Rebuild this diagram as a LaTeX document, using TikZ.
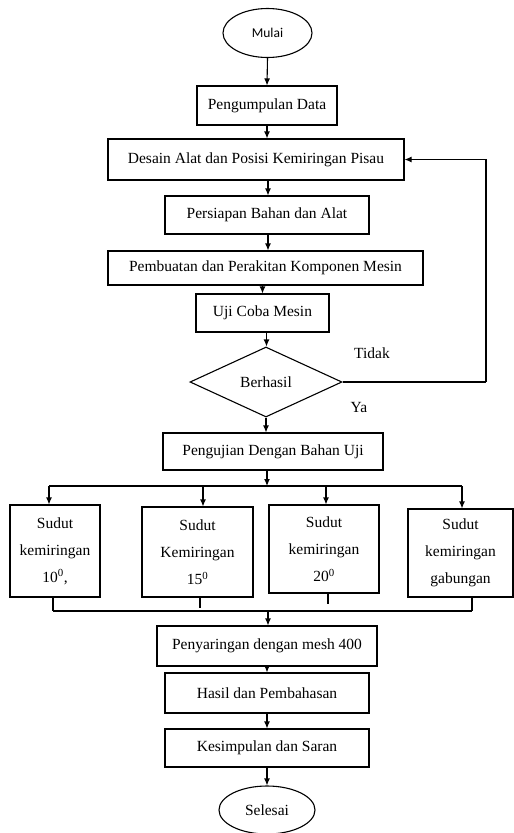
\documentclass[tikz,border=0pt]{standalone}
\usepackage{fontspec}
\setmainfont{Liberation Serif}
\newfontfamily\mulaifont{Carlito}
\usetikzlibrary{shapes.geometric,arrows.meta}
\begin{document}
\begin{tikzpicture}[x=1pt,y=-1pt,
  every node/.style={font=\fontsize{15.5}{27}\selectfont},
  box/.style={draw,line width=1.1pt,rectangle,inner sep=0pt,align=center},
  term/.style={draw,line width=1.1pt,ellipse,inner sep=0pt},
  line/.style={line width=1.1pt},
  arr/.style={line width=1.1pt,-{Latex[length=7pt,width=6pt]}}]
\useasboundingbox (0,0) rectangle (514,833);
% nodes
\node[term,minimum width=89pt,minimum height=49pt] (mulai) at (267.5,33) {\mulaifont\fontsize{13.5}{16}\selectfont Mulai};
\node[box,minimum width=140pt,minimum height=39pt] (pd) at (267,105.5) {Pengumpulan Data};
\node[box,minimum width=296pt,minimum height=41pt] (desain) at (256,159.5) {Desain Alat dan Posisi Kemiringan Pisau};
\node[box,minimum width=204pt,minimum height=38pt] (persiapan) at (267,215) {Persiapan Bahan dan Alat};
\node[box,minimum width=315pt,minimum height=34pt] (pembuatan) at (265.5,268) {Pembuatan dan Perakitan Komponen Mesin};
\node[box,minimum width=133pt,minimum height=38pt] (uji) at (262.5,313) {Uji Coba Mesin};
\node[draw,line width=1.1pt,diamond,inner sep=0pt,minimum width=152pt,minimum height=70pt] (berhasil) at (266,382) {Berhasil};
\node[box,minimum width=220pt,minimum height=37pt] (pengujian) at (273,451.5) {Pengujian Dengan Bahan Uji};
\node[box,minimum width=90pt,minimum height=92pt] (s1) at (55,551) {Sudut\\kemiringan\\10\textsuperscript{0},};
\node[box,minimum width=111pt,minimum height=90pt] (s2) at (197.5,552) {Sudut\\Kemiringan\\15\textsuperscript{0}};
\node[box,minimum width=110pt,minimum height=88pt] (s3) at (324,549) {Sudut\\kemiringan\\20\textsuperscript{0}};
\node[box,minimum width=105pt,minimum height=88pt] (s4) at (460.5,553) {Sudut\\kemiringan\\gabungan};
\node[box,minimum width=220pt,minimum height=40pt] (peny) at (267,646) {Penyaringan dengan mesh 400};
\node[box,minimum width=204pt,minimum height=40pt] (hasil) at (267,693) {Hasil dan Pembahasan};
\node[box,minimum width=204pt,minimum height=38pt] (kes) at (267,748) {Kesimpulan dan Saran};
\node[term,minimum width=96pt,minimum height=48pt] (selesai) at (267,810) {Selesai};
\node (tidak) at (372,353) {Tidak};
\node (ya) at (359,407) {Ya};
% coordinates
\coordinate (fb) at (486,382);
\coordinate (bm) at (267,486);
\coordinate (b1) at (49,486);
\coordinate (b2) at (203,486);
\coordinate (b3) at (326,486);
\coordinate (b4) at (462,486);
\coordinate (c1) at (53,611);
\coordinate (c2) at (200,608);
\coordinate (c3) at (328,604);
\coordinate (c4) at (472,611);
\coordinate (cm) at (268,611);
% connectors
\draw[arr] (mulai.south) -- (pd.north);
\draw[arr] (pd.south) -- (pd.south |- desain.north);
\draw[arr] ([xshift=12pt]desain.south) -- ([xshift=12pt]desain.south |- persiapan.north);
\draw[arr] ([xshift=1pt]persiapan.south) -- ([xshift=1pt]persiapan.south |- pembuatan.north);
\draw[arr] (uji.north |- pembuatan.south) -- (uji.north);
\draw[arr] ([xshift=4pt]uji.south) -- ([xshift=4pt]uji.south |- berhasil.north);
\draw[arr] (berhasil.south) -- (berhasil.south |- pengujian.north);
\draw[line] (berhasil.east) -- (fb);
\draw[arr] (fb) |- (desain.east);
\draw[arr] (bm |- pengujian.south) -- (bm);
\draw[line] (b1) -- (b4);
\draw[arr] (b1) -- (b1 |- s1.north);
\draw[arr] (b2) -- (b2 |- s2.north);
\draw[arr] (b3) -- (b3 |- s3.north);
\draw[arr] (b4) -- (b4 |- s4.north);
\draw[line] (c1 |- s1.south) -- (c1);
\draw[line] (c2 |- s2.south) -- (c2);
\draw[line] (c3 |- s3.south) -- (c3);
\draw[line] (c4 |- s4.south) -- (c4);
\draw[line] (c1) -- (c4);
\draw[arr] (cm) -- (cm |- peny.north);
\draw[arr] (peny.south) -- (hasil.north);
\draw[arr] (hasil.south) -- (kes.north);
\draw[arr] (kes.south) -- (selesai.north);
\end{tikzpicture}
\end{document}
